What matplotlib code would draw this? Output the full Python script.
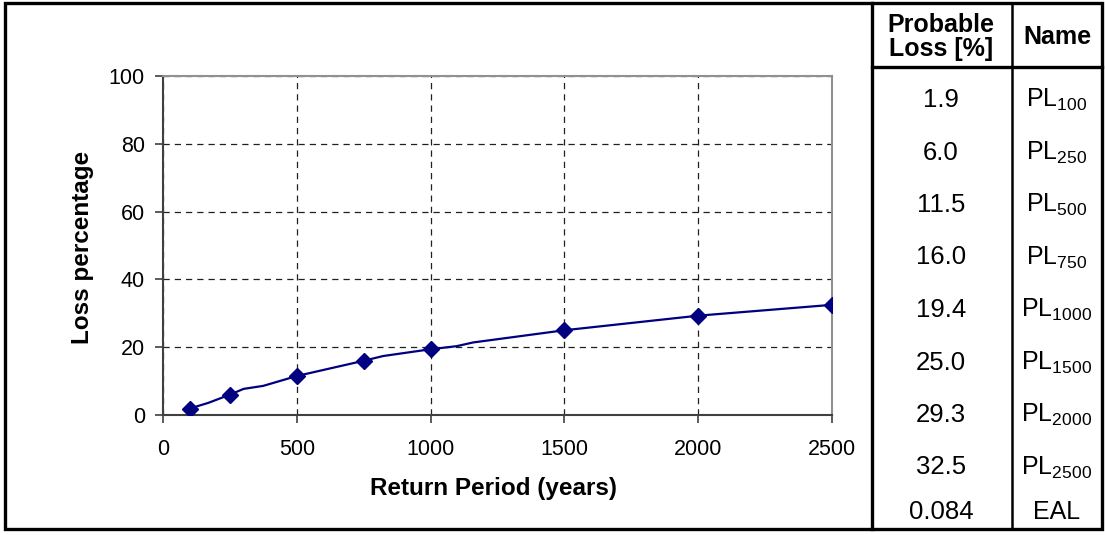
import matplotlib
matplotlib.use("Agg")
import matplotlib.pyplot as plt
from matplotlib.lines import Line2D
from matplotlib.patches import Rectangle

plt.rcParams['font.family'] = ['Liberation Sans', 'DejaVu Sans']
plt.rcParams['mathtext.default'] = 'regular'

# Marker data (return period, probable loss) - same as the table
return_periods = [100, 250, 500, 750, 1000, 1500, 2000, 2500]
probable_loss = [1.9, 6.0, 11.5, 16.0, 19.4, 25.0, 29.3, 32.5]

# Curve vertices
curve_rp = [100, 170, 250, 301, 375, 500, 750, 823, 1000, 1097, 1159, 1500, 2000, 2500]
curve_loss = [1.9, 3.6, 6.0, 7.7, 8.6, 11.5, 16.0, 17.4, 19.4, 20.3, 21.4, 25.0, 29.3, 32.5]

# Table
table_values = ['1.9', '6.0', '11.5', '16.0', '19.4', '25.0', '29.3', '32.5', '0.084']
table_names = ['100', '250', '500', '750', '1000', '1500', '2000', '2500', None]
header_value = 'Probable\nLoss [%]'
header_name = 'Name'

x_ticks = [0, 500, 1000, 1500, 2000, 2500]
y_ticks = [0, 20, 40, 60, 80, 100]

W, H = 1105, 535
fig = plt.figure(figsize=(W / 100, H / 100), dpi=100)

def fx(px):
    return px / W

def fy(py):
    return 1 - py / H

ax = fig.add_axes([fx(163), fy(415), fx(832) - fx(163), fy(76) - fy(415)])
ax.plot(curve_rp, curve_loss, color='#000080', lw=1.6, zorder=3)
ax.plot(return_periods, probable_loss, ls='none', marker='D', ms=8,
        color='#000080', zorder=4)
ax.set_xlim(0, 2500)
ax.set_ylim(0, 100)
ax.set_xticks(x_ticks)
ax.set_yticks(y_ticks)
ax.tick_params(labelsize=15.5, length=6, width=1.2, color='#404040')
ax.tick_params(axis='x', pad=11)
ax.tick_params(axis='y', pad=7)
ax.grid(True, color='#202020', lw=0.9, ls=(0, (5, 4)))
ax.set_axisbelow(True)
for s in ['left', 'bottom']:
    ax.spines[s].set_color('#404040')
    ax.spines[s].set_linewidth(1.5)
for s in ['top', 'right']:
    ax.spines[s].set_color('#909090')
    ax.spines[s].set_linewidth(1.5)

fig.text(fx(493), fy(489), 'Return Period (years)', fontsize=17.5,
         fontweight='bold', ha='center', va='center')
fig.text(fx(83), fy(247), 'Loss percentage', rotation=90, fontsize=17.5,
         fontweight='bold', ha='center', va='center')

# Borders and table lines
fig.add_artist(Rectangle((fx(5), fy(529)), fx(1102) - fx(5), fy(3) - fy(529),
                         transform=fig.transFigure, fill=False, lw=2.4,
                         edgecolor='black'))
fig.add_artist(Line2D([fx(872), fx(872)], [fy(529), fy(3)], transform=fig.transFigure,
                      color='black', lw=2.4))
fig.add_artist(Line2D([fx(1012), fx(1012)], [fy(529), fy(3)], transform=fig.transFigure,
                      color='black', lw=1.8))
fig.add_artist(Line2D([fx(872), fx(1102)], [fy(67), fy(67)], transform=fig.transFigure,
                      color='black', lw=2.4))

col1 = fx(941)
col2 = fx(1057)
fig.text(col1, fy(37), header_value, ha='center', va='center', fontsize=18,
         fontweight='bold', linespacing=1.05)
fig.text(col2, fy(37), header_name, ha='center', va='center', fontsize=18,
         fontweight='bold')

row_y = [100 + 52.5 * i for i in range(8)] + [512]
for yv, val, nm in zip(row_y, table_values, table_names):
    fig.text(col1, fy(yv), val, ha='center', va='center', fontsize=18.5)
    label = 'EAL' if nm is None else r'$PL_{%s}$' % nm
    fig.text(col2, fy(yv), label, ha='center', va='center', fontsize=18)

fig.savefig('out.png', dpi=100)
